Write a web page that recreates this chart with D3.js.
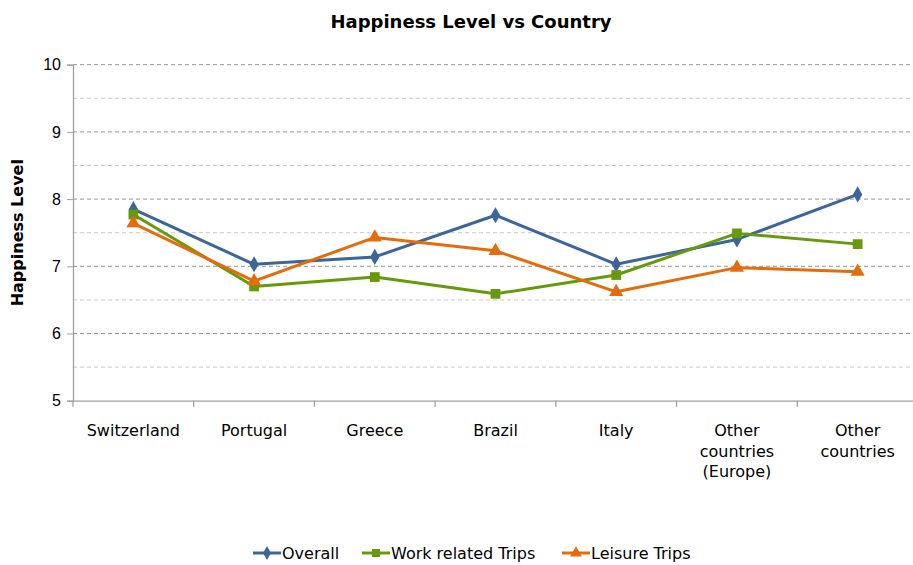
<!DOCTYPE html>
<html><head><meta charset="utf-8">
<script src="https://cdn.jsdelivr.net/npm/d3@7"></script>
<style>body{margin:0;background:#fff;} svg{display:block;font-family:"DejaVu Sans",sans-serif;}</style>
</head><body>
<svg id="c" width="913" height="565"></svg>
<script>
const categories = [["Switzerland"],["Portugal"],["Greece"],["Brazil"],["Italy"],["Other","countries","(Europe)"],["Other","countries"]];
const overall = [7.85,7.03,7.14,7.76,7.03,7.40,8.07];
const work = [7.77,6.70,6.84,6.59,6.87,7.49,7.33];
const leisure = [7.64,6.78,7.43,7.23,6.62,6.98,6.92];
const yTicks = [5,6,7,8,9,10];
const seriesNames = ["Overall","Work related Trips","Leisure Trips"];
const seriesColors = ["#3C6699","#669A0C","#E46C0A"];
const seriesShapes = [d3.symbolDiamond, d3.symbolSquare, d3.symbolTriangle];

const svg = d3.select("#c");
const L = 73, T = 64.7, B = 400.7, W = 845;
const x = d3.scaleBand().domain(d3.range(categories.length)).range([L, L + W]);
const y = d3.scaleLinear().domain([5,10]).range([B, T]);

// gridlines
const minor = d3.range(5.5, 10, 1);
svg.append("g").selectAll("line").data(minor).join("line")
  .attr("x1", L).attr("x2", 913).attr("y1", d=>y(d)).attr("y2", d=>y(d))
  .attr("stroke", "#c8c8c8").attr("stroke-width", 1).attr("stroke-dasharray", "4,3");
svg.append("g").selectAll("line").data(yTicks.slice(1)).join("line")
  .attr("x1", L).attr("x2", 913).attr("y1", d=>y(d)).attr("y2", d=>y(d))
  .attr("stroke", "#969696").attr("stroke-width", 1).attr("stroke-dasharray", "4,3");

// y axis
const ya = svg.append("g").attr("transform", `translate(${L},0)`)
  .call(d3.axisLeft(y).tickValues(yTicks).tickSize(6).tickPadding(6).tickFormat(d3.format("d")));
ya.select(".domain").attr("stroke", "#a0a0a0").attr("stroke-width", 1.3);
ya.selectAll(".tick line").attr("stroke", "#a0a0a0");
ya.selectAll("text").attr("font-size", 16).attr("fill", "#000").style("font-family", "inherit");

// x axis
const xa = svg.append("g").attr("transform", `translate(0,${B})`)
  .call(d3.axisBottom(x).tickValues([]).tickSize(0));
xa.select(".domain").attr("stroke", "#a0a0a0").attr("stroke-width", 1.3);
svg.append("g").selectAll("line").data(d3.range(categories.length + 1)).join("line")
  .attr("x1", i => L + i * x.step()).attr("x2", i => L + i * x.step())
  .attr("y1", B).attr("y2", B + 6).attr("stroke", "#a0a0a0").attr("stroke-width", 1.3);

const xl = svg.append("g").selectAll("text").data(categories).join("text")
  .attr("text-anchor", "middle").attr("font-size", 16).attr("fill", "#000")
  .attr("x", (d,i) => x(i) + x.bandwidth()/2).attr("y", 436);
xl.selectAll("tspan").data(d => d).join("tspan")
  .attr("x", function(){ return this.parentNode.getAttribute("x"); })
  .attr("dy", (d,i) => i === 0 ? 0 : 20.5).text(d => d);

// series
const data = [overall, work, leisure];
const line = d3.line().x((d,i) => x(i) + x.bandwidth()/2).y(d => y(d));
data.forEach((s, k) => {
  svg.append("path").attr("d", line(s)).attr("fill", "none")
    .attr("stroke", seriesColors[k]).attr("stroke-width", 3).attr("stroke-linejoin", "round");
});
data.forEach((s, k) => {
  const sz = k === 0 ? 75 : (k === 1 ? 95 : 85);
  svg.append("g").selectAll("path").data(s).join("path")
    .attr("d", d3.symbol().type(seriesShapes[k]).size(sz))
    .attr("transform", (d,i) => `translate(${x(i) + x.bandwidth()/2},${y(d)})`)
    .attr("fill", seriesColors[k]);
});

// title
svg.append("text").attr("x", 471).attr("y", 28).attr("text-anchor", "middle")
  .attr("font-size", 18).attr("font-weight", "bold").text("Happiness Level vs Country");

// y label
svg.append("text").attr("transform", `translate(23,${(T+B)/2}) rotate(-90)`)
  .attr("text-anchor", "middle").attr("font-size", 16).attr("font-weight", "bold").text("Happiness Level");

// legend
const legX = [253, 362, 562];
const lg = svg.append("g");
seriesNames.forEach((n, k) => {
  const g = lg.append("g").attr("transform", `translate(${legX[k]},553)`);
  g.append("line").attr("x1", 0).attr("x2", 28).attr("stroke", seriesColors[k]).attr("stroke-width", 3);
  g.append("path").attr("d", d3.symbol().type(seriesShapes[k]).size(k===0?55:(k===1?65:60)))
    .attr("transform", "translate(14,0)").attr("fill", seriesColors[k]);
  g.append("text").attr("x", 29).attr("y", 6).attr("font-size", 16).text(n);
});
</script>
</body></html>
